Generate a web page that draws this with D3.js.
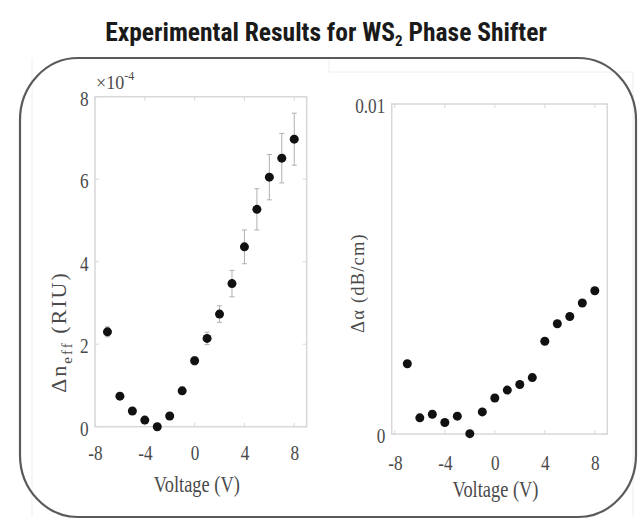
<!DOCTYPE html>
<html>
<head>
<meta charset="utf-8">
<script src="https://cdn.jsdelivr.net/npm/d3@7"></script>
<style>
html,body{margin:0;padding:0;background:#fff;}
svg{display:block;}
</style>
</head>
<body>
<svg id="chart" width="641" height="519"></svg>
<script>
// ---- data ----
const voltage = [-7,-6,-5,-4,-3,-2,-1,0,1,2,3,4,5,6,7,8];
const deltaNeff = [2.30,0.74,0.38,0.16,0.00,0.26,0.87,1.60,2.14,2.73,3.47,4.36,5.27,6.05,6.51,6.97]; // x1e-4 RIU
const deltaNeffErr = [0.12,0.08,0.06,0.06,0.06,0.06,0.08,0.10,0.15,0.20,0.32,0.41,0.50,0.55,0.60,0.63];
const deltaAlpha = [0.00213,0.00049,0.00060,0.00035,0.00054,0.00001,0.00067,0.00109,0.00133,0.00150,0.00171,0.00281,0.00334,0.00356,0.00397,0.00434]; // dB/cm
const xTicks = [-8,-4,0,4,8];
const leftYTicks = [0,2,4,6,8];
const rightYTicks = [0,0.01];
const rightYTickLabels = ["0","0.01"];
const titleText = "Experimental Results for WS";

const svg = d3.select("#chart");
const serif = "'Liberation Serif','DejaVu Serif',serif";
const labelColor = "#4a4a4a";
const boxColor = "#d8d8d8";

// faint image-border artifacts
svg.append("path").attr("d","M32,58 L32,517 M329,58 L329,72 L633,72 L633,517")
  .attr("fill","none").attr("stroke","#eeeeee").attr("stroke-width",1);

// rounded frame
svg.append("rect").attr("x",20).attr("y",58).attr("width",616).attr("height",459)
  .attr("rx",58).attr("ry",62)
  .attr("fill","none").attr("stroke","#5a5a5a").attr("stroke-width",2.2);

// title
const title = svg.append("text").attr("x",326).attr("y",41).attr("text-anchor","middle")
  .attr("font-family","'Liberation Sans Narrow','Roboto Condensed','Liberation Sans',Arial,sans-serif")
  .attr("font-weight","bold").attr("font-size",25.5).attr("fill","#1a1a1a");
title.append("tspan").text(titleText);
title.append("tspan").attr("dy",5).attr("font-size",15).text("2");
title.append("tspan").attr("dy",-5).text(" Phase Shifter");

function drawPanel(opts){
  const {xs, ys, yTicks, yLabels, dataY, err, xLabelY, xTickPad} = opts;
  const g = svg.append("g");
  const [x0,x1] = xs.range();
  const [y0,y1] = ys.range();
  // box
  g.append("rect").attr("x",x0).attr("y",y1).attr("width",x1-x0).attr("height",y0-y1)
    .attr("fill","none").attr("stroke",boxColor).attr("stroke-width",1.5);
  // ticks (inside) bottom/top
  xTicks.forEach(t=>{
    const x = xs(t);
    g.append("line").attr("x1",x).attr("x2",x).attr("y1",y0).attr("y2",y0-4).attr("stroke",boxColor);
    g.append("line").attr("x1",x).attr("x2",x).attr("y1",y1).attr("y2",y1+4).attr("stroke",boxColor);
  });
  yTicks.forEach(t=>{
    const y = ys(t);
    g.append("line").attr("x1",x0).attr("x2",x0+4).attr("y1",y).attr("y2",y).attr("stroke",boxColor);
    g.append("line").attr("x1",x1).attr("x2",x1-4).attr("y1",y).attr("y2",y).attr("stroke",boxColor);
  });
  // x tick labels via axis
  const xAxis = g.append("g").attr("transform",`translate(0,${y0+xTickPad})`)
    .call(d3.axisBottom(xs).tickValues(xTicks).tickSize(0).tickFormat(d=>d<0?"-"+Math.abs(d):String(d)));
  xAxis.select(".domain").remove();
  xAxis.selectAll("text").attr("font-family",serif).attr("font-size",21).attr("fill",labelColor)
    .attr("transform","scale(0.82,1)");
  // y tick labels
  const yAxis = g.append("g").attr("transform",`translate(${x0-4},0)`)
    .call(d3.axisLeft(ys).tickValues(yTicks).tickSize(0).tickFormat((d,i)=>yLabels[i]));
  yAxis.select(".domain").remove();
  yAxis.selectAll("text").attr("font-family",serif).attr("font-size",21).attr("fill",labelColor)
    .attr("dy","0.4em").attr("transform","scale(0.82,1)");
  // error bars
  if(err){
    const eb = g.append("g").attr("stroke","#b0b0b0").attr("stroke-width",1);
    voltage.forEach((v,i)=>{
      const x = xs(v), ya = ys(dataY[i]+err[i]), yb = ys(dataY[i]-err[i]);
      eb.append("line").attr("x1",x).attr("x2",x).attr("y1",ya).attr("y2",yb);
      eb.append("line").attr("x1",x-2.5).attr("x2",x+2.5).attr("y1",ya).attr("y2",ya);
      eb.append("line").attr("x1",x-2.5).attr("x2",x+2.5).attr("y1",yb).attr("y2",yb);
    });
  }
  // points
  g.append("g").selectAll("circle").data(voltage).join("circle")
    .attr("cx",d=>xs(d)).attr("cy",(d,i)=>ys(dataY[i])).attr("r",4.5).attr("fill","#111");
  // x label
  const cx = (x0+x1)/2 - 4;
  g.append("text").attr("x",cx).attr("y",xLabelY).attr("text-anchor","middle")
    .attr("font-family",serif).attr("font-size",23).attr("fill",labelColor)
    .attr("transform",`translate(${cx},0) scale(0.8,1) translate(${-cx},0)`)
    .text("Voltage (V)");
  return g;
}

// left panel
const xL = d3.scaleLinear().domain([-8,9]).range([95,306.7]);
const yL = d3.scaleLinear().domain([0,8]).range([426.7,96.7]);
drawPanel({xs:xL, ys:yL, yTicks:leftYTicks, yLabels:leftYTicks.map(String), dataY:deltaNeff, err:deltaNeffErr, xLabelY:492, xTickPad:15});

// exponent label
const ex = svg.append("text").attr("x",96).attr("y",89).attr("font-family",serif).attr("font-size",18).attr("fill",labelColor);
ex.append("tspan").text("×10");
ex.append("tspan").attr("dy",-9).attr("font-size",12).text("-4");

// left y label
const lyl = svg.append("text").attr("transform","translate(66,332) rotate(-90)").attr("text-anchor","middle")
  .attr("font-family",serif).attr("font-size",22).attr("fill",labelColor).attr("letter-spacing",2);
lyl.append("tspan").text("Δn");
lyl.append("tspan").attr("dy",6).attr("font-size",15).text("eff");
lyl.append("tspan").attr("dy",-6).text(" (RIU)");

// right panel
const xR = d3.scaleLinear().domain([-8.25,9]).range([391.7,607.3]);
const yR = d3.scaleLinear().domain([0,0.01]).range([434,104]);
drawPanel({xs:xR, ys:yR, yTicks:rightYTicks, yLabels:rightYTickLabels, dataY:deltaAlpha, err:null, xLabelY:497, xTickPad:18});

// right y label
svg.append("text").attr("transform","translate(364,283) rotate(-90)").attr("text-anchor","middle")
  .attr("font-family",serif).attr("font-size",18.5).attr("fill",labelColor).attr("letter-spacing",1.2)
  .text("Δα  (dB/cm)");
</script>
</body>
</html>
